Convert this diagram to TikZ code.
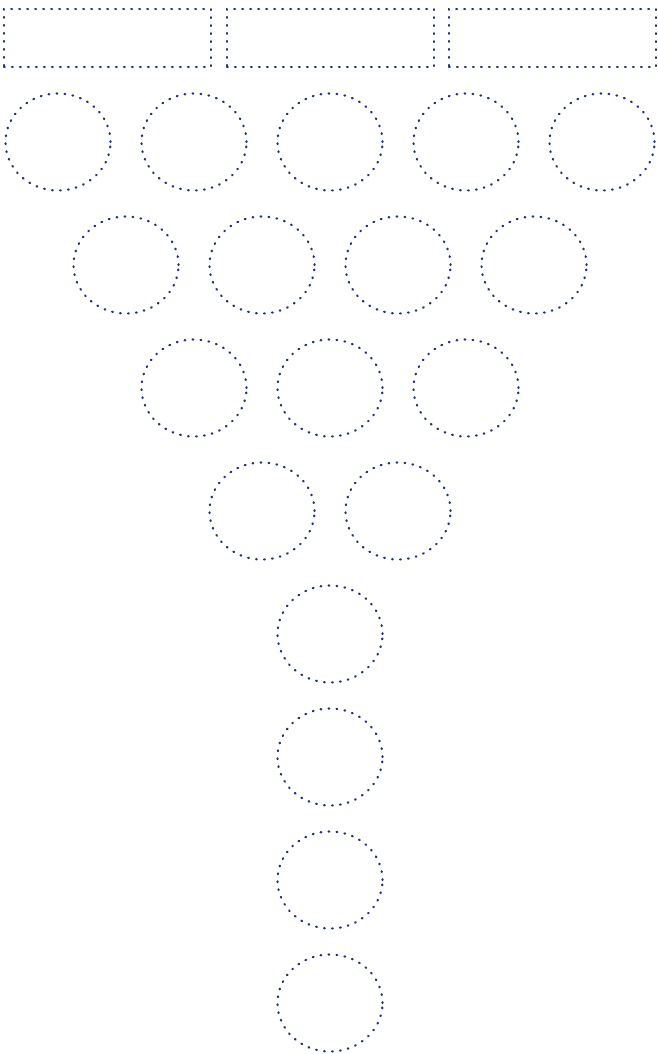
\documentclass[tikz,border=0pt]{standalone}
\usetikzlibrary{shapes.geometric}
\definecolor{dotblue}{RGB}{31,46,140}
\begin{document}
\begin{tikzpicture}[x=1pt,y=-1pt,
  dotline/.style={draw=dotblue, line width=2.2pt, line cap=round, dash pattern=on 0.8pt off 7.2pt},
  bar/.style={dotline, rectangle, minimum width=207pt, minimum height=58pt, inner sep=0pt},
  ball/.style={dotline, ellipse, minimum width=105pt, minimum height=97pt, inner sep=0pt}]
\useasboundingbox (0,0) rectangle (657,1054);
\node[bar] (r1) at (107.5,38) {};
\node[bar] (r2) at (330.5,38) {};
\node[bar] (r3) at (552.5,38) {};
\foreach \x [count=\i] in {58,194,330,466,602} \node[ball] (a\i) at (\x,142) {};
\foreach \x [count=\i] in {126,262,398,534} \node[ball] (b\i) at (\x,265) {};
\foreach \x [count=\i] in {194,330,466} \node[ball] (c\i) at (\x,388) {};
\foreach \x [count=\i] in {262,398} \node[ball] (d\i) at (\x,511) {};
\foreach \y [count=\i] in {634,757,880,1003} \node[ball] (e\i) at (330,\y) {};
\end{tikzpicture}
\end{document}
